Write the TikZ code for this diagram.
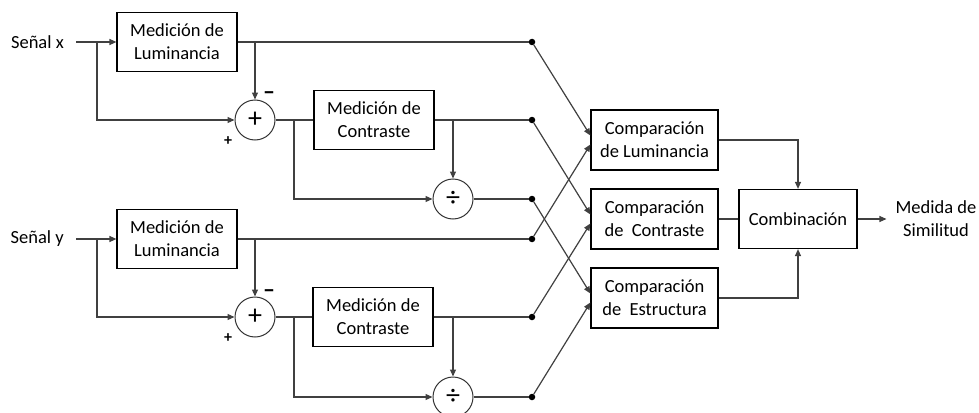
\documentclass[tikz,border=0pt]{standalone}
\usepackage{fontspec}
\setmainfont{Carlito}
\usetikzlibrary{arrows.meta}
\begin{document}
\begin{tikzpicture}[x=1pt,y=-1pt,
  font=\fontsize{18.5}{23}\selectfont,
  blk/.style={draw=black, line width=1.2pt, align=center, inner sep=0pt,
              minimum width=120pt, minimum height=59pt},
  cmp/.style={blk, minimum width=127pt, minimum height=60pt},
  op/.style={draw=black!80, circle, line width=1pt, minimum size=40pt, inner sep=0pt,
             font=\fontsize{28}{28}\selectfont},
  wire/.style={draw=black!75, line width=1.2pt},
  arr/.style={wire, -{Triangle[length=7pt,width=6pt]}},
  jdot/.style={circle, fill=black, inner sep=0pt, minimum size=6.5pt},
  sgn/.style={font=\fontsize{16}{16}\selectfont\bfseries, inner sep=0pt},
]
\useasboundingbox (0,0) rectangle (979,412);

% ---- signal x path
\node[anchor=east, inner sep=0pt] (sx) at (64,42) {Señal x};
\node[blk] (lumx) at (177,42) {Medición de\\Luminancia};
\node[op] (sumx) at (255,120) {+};
\node[blk] (conx) at (374,120) {Medición de\\Contraste};
\node[op] (divx) at (453,199) {÷};

% ---- signal y path
\node[anchor=east, inner sep=0pt] (sy) at (64,239) {Señal y};
\node[blk] (lumy) at (177,239) {Medición de\\Luminancia};
\node[op] (sumy) at (255,317) {+};
\node[blk] (cony) at (373,317) {Medición de\\Contraste};
\node[op] (divy) at (453,397) {÷};

% ---- sign labels at the adders
\node[sgn, font=\fontsize{24}{24}\selectfont\bfseries] (mx) at (269,96) {–};
\node[sgn] (px) at (228,141) {+};
\node[sgn, font=\fontsize{24}{24}\selectfont\bfseries] (my) at (269,294) {–};
\node[sgn] (py) at (228,338) {+};

% ---- junction dots
\node[jdot] (dlx) at (532,42) {};
\node[jdot] (dcx) at (532,120) {};
\node[jdot] (ddx) at (532,199) {};
\node[jdot] (dly) at (532,239) {};
\node[jdot] (dcy) at (532,317) {};
\node[jdot] (ddy) at (532,397) {};

% ---- comparison stage
\node[cmp] (clum) at (654.5,140) {Comparación\\de Luminancia};
\node[cmp] (ccon) at (654.5,219) {Comparación\\de\ \ Contraste};
\node[cmp] (cest) at (654.5,298) {Comparación\\de\ \ Estructura};
\node[blk, minimum width=118pt] (comb) at (798,219) {Combinación};
\node[align=center, inner sep=0pt] (out) at (936,219) {Medida de\\Similitud};

% ---- wiring, signal x
\coordinate (ix) at (76,42);
\coordinate (bx1) at (97,42);
\coordinate (bx2) at (255,42);
\coordinate (bx3) at (294,120);
\coordinate (bx4) at (453,120);
\draw[arr] (ix) -- (lumx.west);
\draw[arr] (bx1) |- (sumx.west);
\draw[wire] (lumx.east) -- (dlx);
\draw[arr] (bx2) -- (sumx.north);
\draw[wire] (sumx.east) -- (conx.west);
\draw[arr] (bx3) |- (divx.west);
\draw[wire] (conx.east) -- (dcx);
\draw[arr] (bx4) -- (divx.north);
\draw[wire] (divx.east) -- (ddx);

% ---- wiring, signal y
\coordinate (iy) at (76,239);
\coordinate (by1) at (97,239);
\coordinate (by2) at (255,239);
\coordinate (by3) at (294,317);
\coordinate (by4) at (453,317);
\draw[arr] (iy) -- (lumy.west);
\draw[arr] (by1) |- (sumy.west);
\draw[wire] (lumy.east) -- (dly);
\draw[arr] (by2) -- (sumy.north);
\draw[wire] (sumy.east) -- (cony.west);
\draw[arr] (by3) |- (divy.west);
\draw[wire] (cony.east) -- (dcy);
\draw[arr] (by4) -- (divy.north);
\draw[wire] (divy.east) -- (ddy);

% ---- crossing links into the comparison blocks
\draw[arr] (dlx) -- ([yshift=4.5pt]clum.west);
\draw[arr] (dly) -- ([yshift=-4.5pt]clum.west);
\draw[arr] (dcx) -- ([yshift=4.5pt]ccon.west);
\draw[arr] (dcy) -- ([yshift=-4.5pt]ccon.west);
\draw[arr] (ddx) -- ([yshift=4.5pt]cest.west);
\draw[arr] (ddy) -- ([yshift=-4.5pt]cest.west);

% ---- combination
\draw[arr] (clum.east) -| (comb.north);
\draw[wire] (ccon.east) -- (comb.west);
\draw[arr] (cest.east) -| (comb.south);
\draw[arr] (comb.east) -- ([xshift=-9pt]out.west);
\end{tikzpicture}
\end{document}
